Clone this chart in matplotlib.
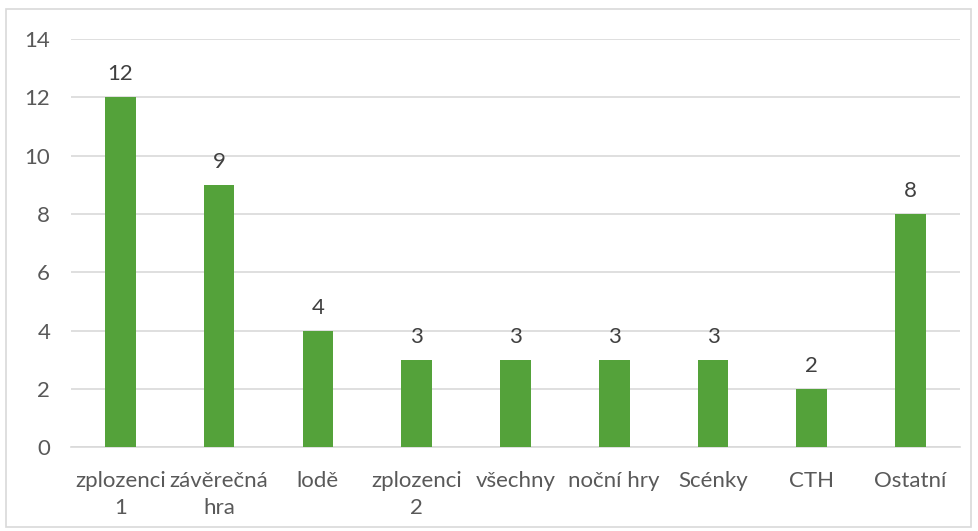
import matplotlib.pyplot as plt
from matplotlib.patches import Rectangle

plt.rcParams['font.family'] = ['Lato', 'DejaVu Sans']

categories = ['zplozenci\n1', 'závěrečná\nhra', 'lodě', 'zplozenci\n2', 'všechny',
              'noční hry', 'Scénky', 'CTH', 'Ostatní']
values = [12, 9, 4, 3, 3, 3, 3, 2, 8]

bar_color = '#54A23A'
text_color = '#595959'
grid_color = '#D9D9D9'

fig = plt.figure(figsize=(9.79, 5.31), dpi=100)
ax = fig.add_axes([0.0725, 0.158, 0.908, 0.7685])

x = range(len(categories))
bars = ax.bar(x, values, width=0.31, color=bar_color, zorder=3)

# value labels above the bars
for b, v in zip(bars, values):
    ax.annotate(str(v), (b.get_x() + b.get_width() / 2, b.get_height()),
                xytext=(0, 13), textcoords='offset pixels',
                ha='center', va='bottom', fontsize=16, color='#404040')

ax.set_xlim(-0.5, len(categories) - 0.5)
ax.set_ylim(0, 14)
ax.set_yticks(range(0, 15, 2))
ax.set_xticks(list(x))
ax.set_xticklabels(categories, fontsize=16, color=text_color, linespacing=1.45)
ax.tick_params(axis='y', labelsize=16, labelcolor=text_color, length=0, pad=15)
ax.tick_params(axis='x', length=0, pad=17)

ax.yaxis.grid(True, color=grid_color, linewidth=1.2, zorder=0)
for side in ['top', 'right', 'left']:
    ax.spines[side].set_visible(False)
ax.spines['bottom'].set_color(grid_color)
ax.spines['bottom'].set_linewidth(1.2)

# chart border
fig.patches.append(Rectangle((6 / 979, 1 - 527 / 531), 965 / 979, 518 / 531,
                             transform=fig.transFigure, fill=False,
                             edgecolor='#D9D9D9', linewidth=1.2))

fig.savefig('out.png', dpi=100)
